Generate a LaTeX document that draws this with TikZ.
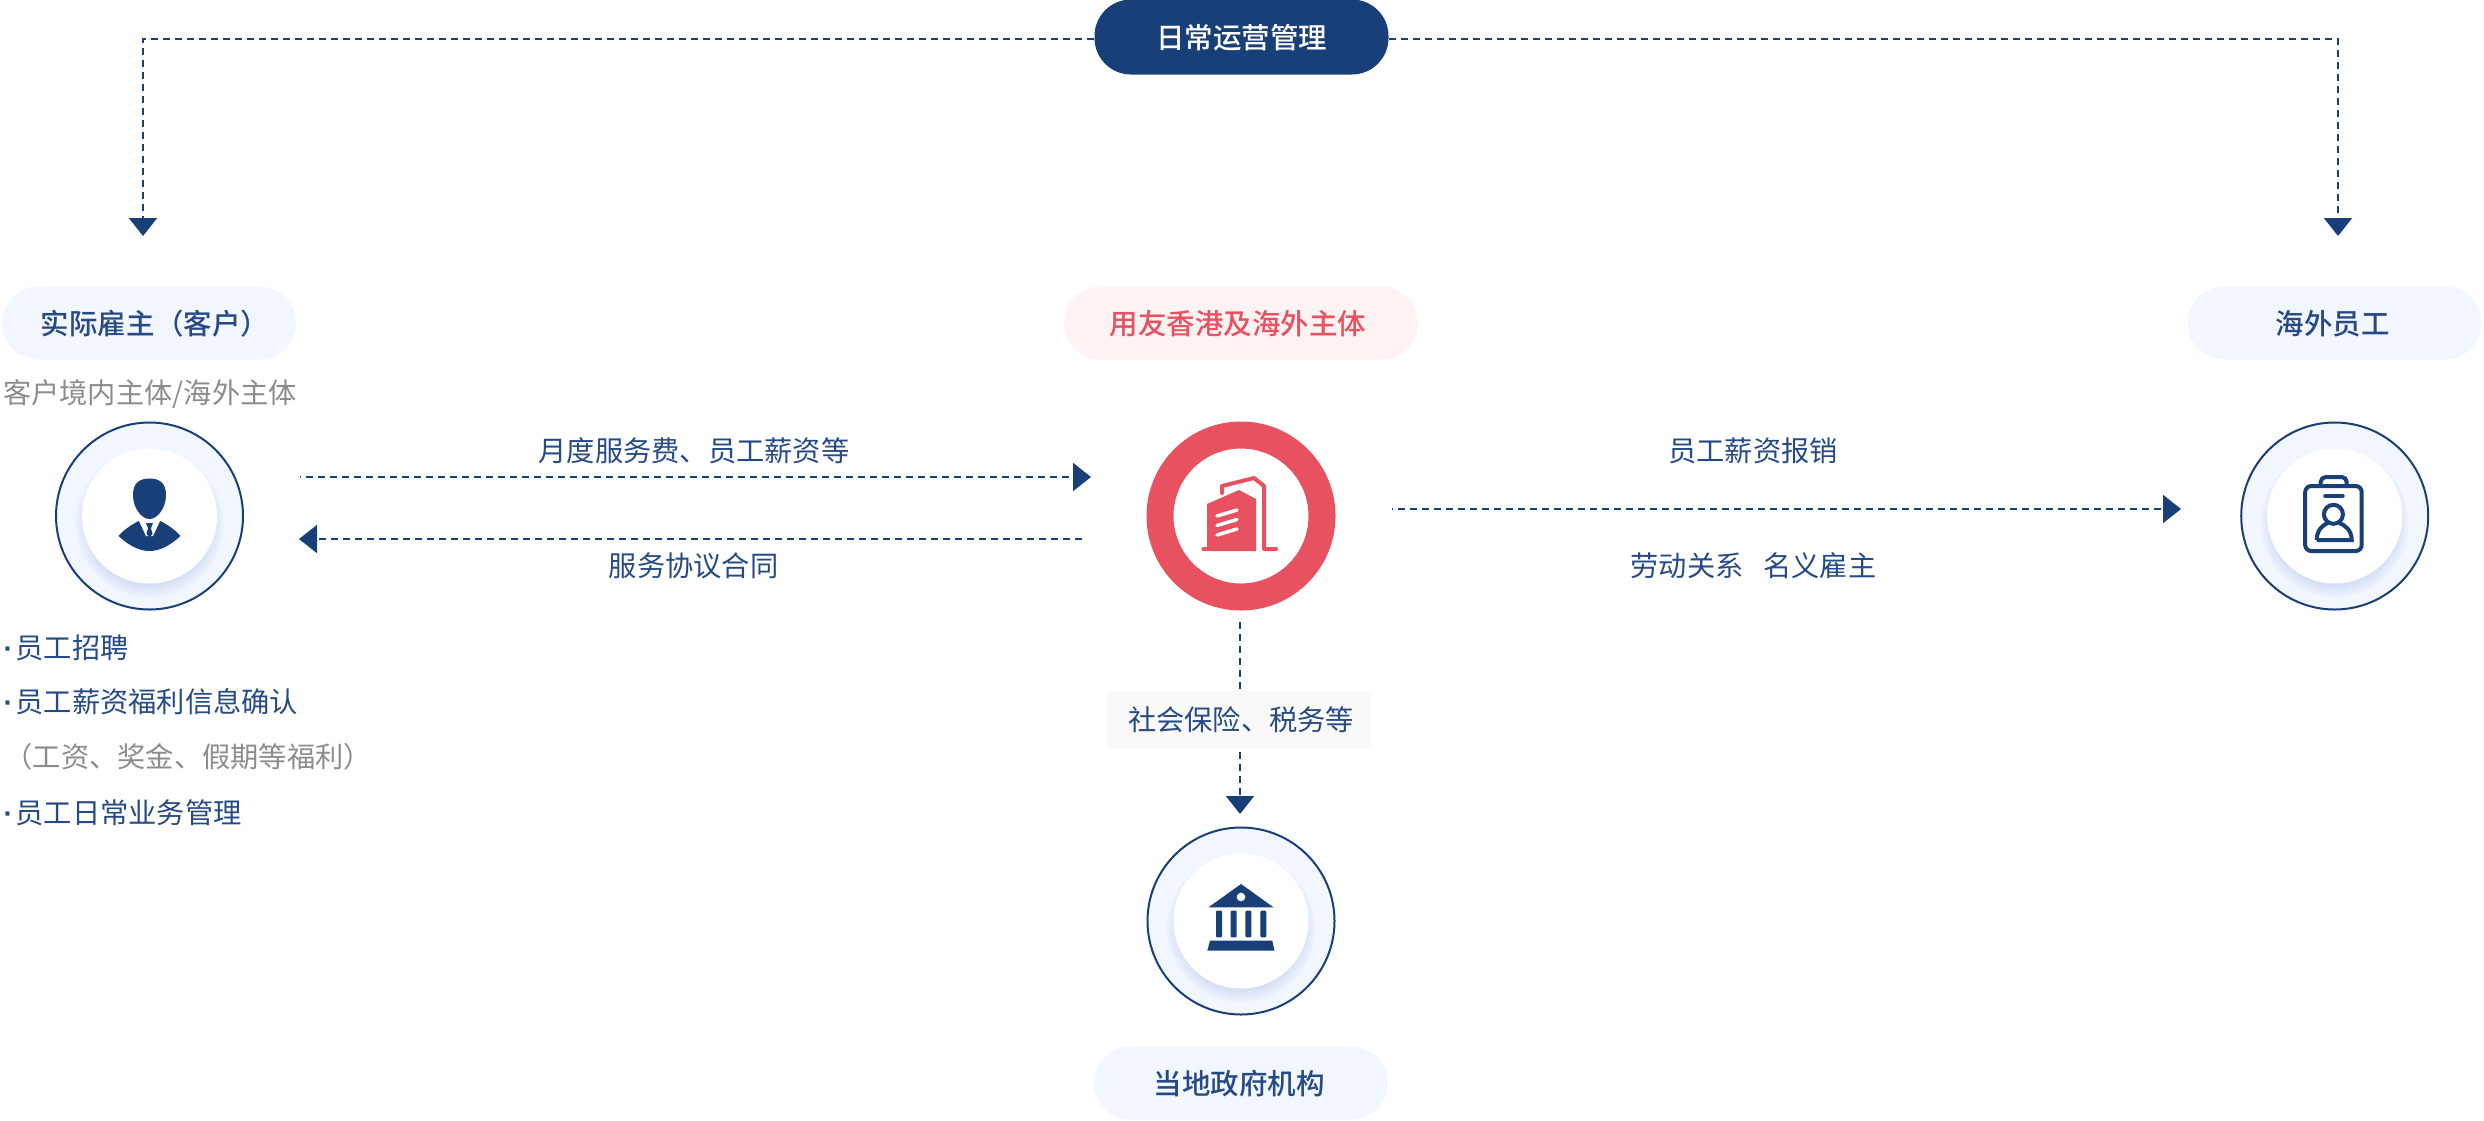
\documentclass[tikz,border=0pt]{standalone}
\usepackage{fontspec}
\setmainfont{Noto Sans CJK SC}
\newfontfamily\cjkmedium{Noto Sans CJK SC Medium}
\newfontfamily\dotfont{Liberation Sans}
\usetikzlibrary{positioning}
\usetikzlibrary{arrows.meta}
\definecolor{navy}{HTML}{183F77}
\definecolor{labelblue}{HTML}{264A85}
\definecolor{paleblue}{HTML}{F1F6FF}
\definecolor{coral}{HTML}{E85160}
\definecolor{palepink}{HTML}{FFF2F2}
\definecolor{paper}{HTML}{F9F9F9}
\definecolor{greytext}{HTML}{8C8C8C}
\definecolor{glow}{HTML}{B4C6EE}
\newcommand{\taskdot}{{\dotfont\bfseries ·}\hspace{1.1pt}}
\tikzstyle{pill}=[rounded corners=14.6pt,minimum width=117.6pt,minimum height=29.2pt,inner sep=0pt,text height=10.6pt,text depth=1.2pt,font=\cjkmedium\fontsize{11.4pt}{13pt}\selectfont]
\tikzstyle{rolepill}=[pill,fill=paleblue,text=labelblue]
\tikzstyle{ring}=[circle,fill=paleblue,draw=navy,line width=0.8pt,minimum size=74.8pt,inner sep=0pt]
\tikzstyle{disc}=[circle,fill=white,minimum size=54pt,inner sep=0pt]
\tikzstyle{label}=[font=\fontsize{11.3pt}{13pt}\selectfont,text=labelblue,inner sep=0pt]
\tikzstyle{graylabel}=[label,text=greytext]
\tikzstyle{link}=[draw=navy,line width=0.8pt,dash pattern=on 2.8pt off 2pt,-{Triangle[length=7.2pt,width=11.2pt]}]
\tikzstyle{plainlink}=[draw=navy,line width=0.8pt,dash pattern=on 2.8pt off 2pt]
\begin{document}
\begin{tikzpicture}[x=0.4pt,y=-0.4pt]
    \useasboundingbox (0,0) rectangle (2484,1120);

    % the three pale emblems
    \foreach \px/\py/\name in {149.5/516/client, 2334.7/516/staff, 1241/921/gov}
    {
        \node[ring] (\name) at (\px,\py) {};
        \begin{scope}
            \clip (\px,\py) circle[radius=93];
            \foreach \r in {2,4,...,14}
                \fill[glow,opacity=0.08] (\px,\py+7) circle[radius=76-\r];
        \end{scope}
        \node[disc] (\name disc) at (\px,\py) {};
    }
    \node[disc,draw=coral,line width=10.8pt,minimum size=64.8pt] (ngl) at (1241,516) {};

    % person
    \begin{scope}[shift={(149.5,516)},navy]
        \fill (-16.5,-21) .. controls (-16.5,-33) and (-10,-37.5) .. (0,-37.5) .. controls (10,-37.5) and (16.5,-33) .. (16.5,-21) .. controls (16.5,-8) and (8,3) .. (0,3) .. controls (-8,3) and (-16.5,-8) .. cycle;
        \fill (-31,20) .. controls (-25,13) and (-18,9) .. (-11,5) -- (11,5) .. controls (18,9) and (25,13) .. (31,20) .. controls (20,30) and (10,35) .. (0,35) .. controls (-10,35) and (-20,30) .. cycle;
        \fill[white] (-11,4) -- (11,4) -- (3.5,20) -- (-3.5,20) -- cycle;
        \fill (-3.5,7) -- (3.5,7) -- (1.5,12) -- (3,18) -- (0,21) -- (-3,18) -- (-1.5,12) -- cycle;
    \end{scope}

    % building
    \begin{scope}[shift={(1241,516)},coral]
        \fill (-34,-12) -- (-2,-26) -- (15,-17) -- (15,35) -- (-34,35) -- cycle;
        \draw[line width=1.7pt,line cap=round] (-37.5,33) -- (-30,33);
        \draw[line width=1.6pt,line cap=round,line join=round] (-19,-23) -- (-19,-30) -- (13,-38) -- (23,-30) -- (23,33) -- (35,33);
        \foreach \y in {0,9.5,19}
            \draw[white,line width=1.4pt,line cap=round] (-24,\y) -- (-4,\y-6);
    \end{scope}

    % badge
    \begin{scope}[shift={(2334.7,516)},navy,line width=1.6pt]
        \draw[rounded corners=2.4pt] (-29.5,-30) rectangle (27,35);
        \draw[rounded corners=2pt] (-14,-31) -- (-14,-39) -- (12,-39) -- (12,-31);
        \draw[line cap=round] (-9.5,-20) -- (8,-20);
        \draw (-1.3,-1.7) circle[radius=9.5];
        \draw (-18,24) .. controls (-18,14) and (-12,9) .. (-7,7) (4.5,7) .. controls (10,9) and (17,14) .. (17,24) -- (-18,24);
    \end{scope}

    % bank
    \begin{scope}[shift={(1241,921)},navy]
        \fill (0,-37) -- (32.5,-13.7) -- (-32.5,-13.7) -- cycle;
        \fill[white] (0,-24) circle[radius=4.3];
        \foreach \cx in {-22,-7.3,7.3,22.3}
            \fill[rounded corners=0.4pt] (\cx-3,-10.3) rectangle (\cx+3,16.3);
        \fill (-31,19.7) -- (31.3,19.7) -- (33.5,29.7) -- (-33.7,29.7) -- cycle;
    \end{scope}

    % pills
    \node[pill,fill=navy,text=white,minimum height=30pt] (daily) at (1241.5,37) {日常运营管理};
    \node[rolepill] (employer) at (149,323) {\hspace*{4.8pt}实际雇主（客户）};
    \node[pill,fill=palepink,text=coral,minimum width=141.6pt] (host) at (1241,323) {用友香港及海外主体\hspace*{2.4pt}};
    \node[rolepill] (worker) at (2334.5,323) {海外员工\hspace*{1.6pt}};
    \node[rolepill] (agency) at (1241,1083) {当地政府机构\hspace*{1.6pt}};

    % text
    \node[graylabel] (entity) at (150,394) {客户境内主体/海外主体};
    \node[label,anchor=west] (task1) at (3,648) {\taskdot 员工招聘};
    \node[label,anchor=west] (task2) at (3,702) {\taskdot 员工薪资福利信息确认};
    \node[graylabel,anchor=west] (task3) at (4,757) {（工资、奖金、假期等福利）};
    \node[label,anchor=west] (task4) at (3,813) {\taskdot 员工日常业务管理};
    \node[label] (fee) at (694,451) {月度服务费、员工薪资等};
    \node[label] (deal) at (693.5,566) {服务协议合同};
    \node[label] (claim) at (1753,451) {员工薪资报销};
    \node[label] (nominal) at (1753.5,566) {劳动关系\hspace{0.7em}名义雇主};
    \node[label,fill=paper,minimum width=105.6pt,minimum height=23.2pt] (levy) at (1239,720) {\hspace*{1.6pt}社会保险、税务等};

    % free ends of the links
    \coordinate (a1) at (143,236);
    \coordinate (a2) at (2338,236);
    \coordinate (b1) at (300,477);
    \coordinate (b2) at (1091,477);
    \coordinate (c1) at (1082,539);
    \coordinate (c2) at (299,539);
    \coordinate (d1) at (1392,509);
    \coordinate (d2) at (2181,509);
    \coordinate (e1) at (1240,622);
    \coordinate (e2) at (1240,752);
    \coordinate (e3) at (1240,814);

    \draw[link] (daily.west |- 0,39) -| (a1);
    \draw[link] (daily.east |- 0,39) -| (a2);
    \draw[link,dash phase=2.4pt] (b1) -- (b2);
    \draw[link] (c1) -- (c2);
    \draw[link,dash phase=2.4pt] (d1) -- (d2);
    \draw[plainlink] (e1) -- (e1 |- levy.north);
    \draw[link] (e2) -- (e3);
\end{tikzpicture}
\end{document}
